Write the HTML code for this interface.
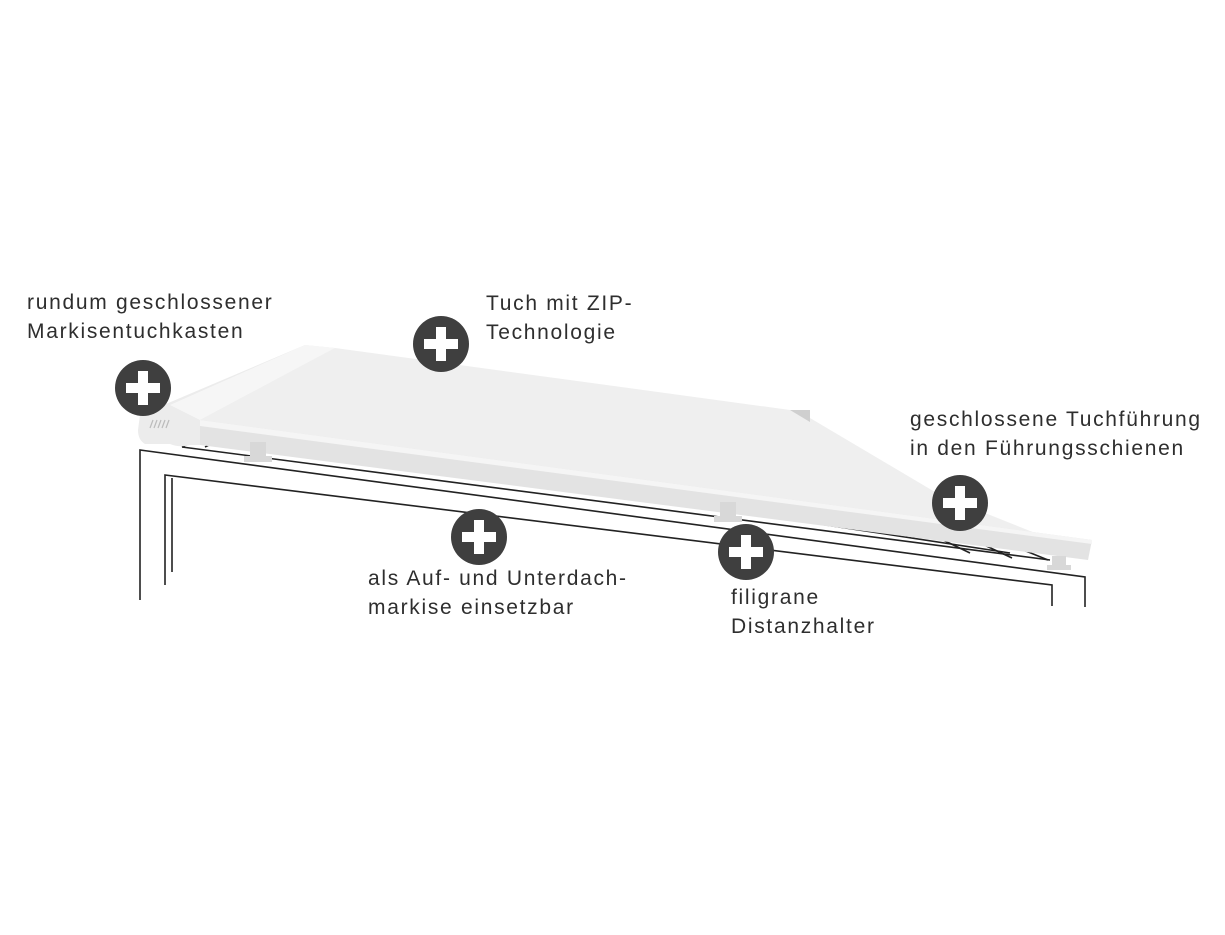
<!DOCTYPE html>
<html><head><meta charset="utf-8"><style>
html,body{margin:0;padding:0;background:#fff;}
.t{position:absolute;font-family:"Liberation Sans",sans-serif;font-size:21px;letter-spacing:1.7px;line-height:29px;color:#2e2e2e;white-space:nowrap;}
</style></head><body>
<div style="position:relative;width:1225px;height:935px;overflow:hidden;">
<svg width="1225" height="935" style="position:absolute;left:0;top:0">
<g stroke="#222" stroke-width="1.6" fill="none">
<polyline points="140,600 140,450 1085,577 1085,607"/>
<polyline points="165,585 165,475 1052,585 1052,606"/>
<line x1="172" y1="572" x2="172" y2="478"/>
<line x1="182" y1="447" x2="1050" y2="560"/>
<line x1="215" y1="432" x2="1010" y2="553"/>
<line x1="182" y1="447" x2="205" y2="435"/>
<line x1="205" y1="447" x2="225" y2="437"/>
<line x1="943" y1="540" x2="970" y2="553"/>
<line x1="980" y1="543" x2="1012" y2="558"/>
<line x1="1016" y1="547" x2="1048" y2="560"/>
</g>
<path d="M140,415 L305,345 L335,348 L200,422 L200,445 L190,445 Q180,448 170,444 L145,444 Q138,440 138,430 Z" fill="#ececec"/>
<path d="M170,405 L305,345 L335,348 L200,420 Z" fill="#f6f6f6"/>
<g stroke="#bbb" stroke-width="1.2"><line x1="150" y1="428" x2="153" y2="420"/><line x1="154" y1="428" x2="157" y2="420"/><line x1="158" y1="428" x2="161" y2="420"/><line x1="162" y1="428" x2="165" y2="420"/><line x1="166" y1="428" x2="169" y2="420"/></g>
<path d="M200,420 L335,348 L790,410 L810,418 L940,495 L1040,535 L1090,540 L200,425 Z" fill="#efefef"/>
<path d="M790,410 L810,410 L810,422 Z" fill="#cfcfcf"/>
<path d="M200,420 L1092,540 L1088,560 L200,445 Z" fill="#e3e3e3"/>
<path d="M200,420 L1092,540 L1092,544 L200,426 Z" fill="#f5f5f5"/>
<g fill="#d8d8d8">
<rect x="250" y="442" width="16" height="18"/><rect x="244" y="456" width="28" height="6"/>
<rect x="720" y="502" width="16" height="18"/><rect x="714" y="516" width="28" height="6"/>
<rect x="1052" y="556" width="14" height="12"/><rect x="1047" y="565" width="24" height="5"/>
</g>
<g fill="#3f3f3f">
<circle cx="143" cy="388" r="28"/><circle cx="441" cy="344" r="28"/>
<circle cx="479" cy="537" r="28"/><circle cx="746" cy="552" r="28"/>
<circle cx="960" cy="503" r="28"/>
</g>
<g fill="#fff">
<rect x="126" y="383" width="34" height="10"/><rect x="138" y="371" width="10" height="34"/>
<rect x="424" y="339" width="34" height="10"/><rect x="436" y="327" width="10" height="34"/>
<rect x="462" y="532" width="34" height="10"/><rect x="474" y="520" width="10" height="34"/>
<rect x="729" y="547" width="34" height="10"/><rect x="741" y="535" width="10" height="34"/>
<rect x="943" y="498" width="34" height="10"/><rect x="955" y="486" width="10" height="34"/>
</g>
</svg>
<div class="t" style="left:27px;top:288px">rundum geschlossener<br>Markisentuchkasten</div>
<div class="t" style="left:486px;top:289px">Tuch mit ZIP-<br>Technologie</div>
<div class="t" style="left:910px;top:405px">geschlossene Tuchführung<br>in den Führungsschienen</div>
<div class="t" style="left:368px;top:564px">als Auf- und Unterdach-<br>markise einsetzbar</div>
<div class="t" style="left:731px;top:583px">filigrane<br>Distanzhalter</div>
</div>
</body></html>
